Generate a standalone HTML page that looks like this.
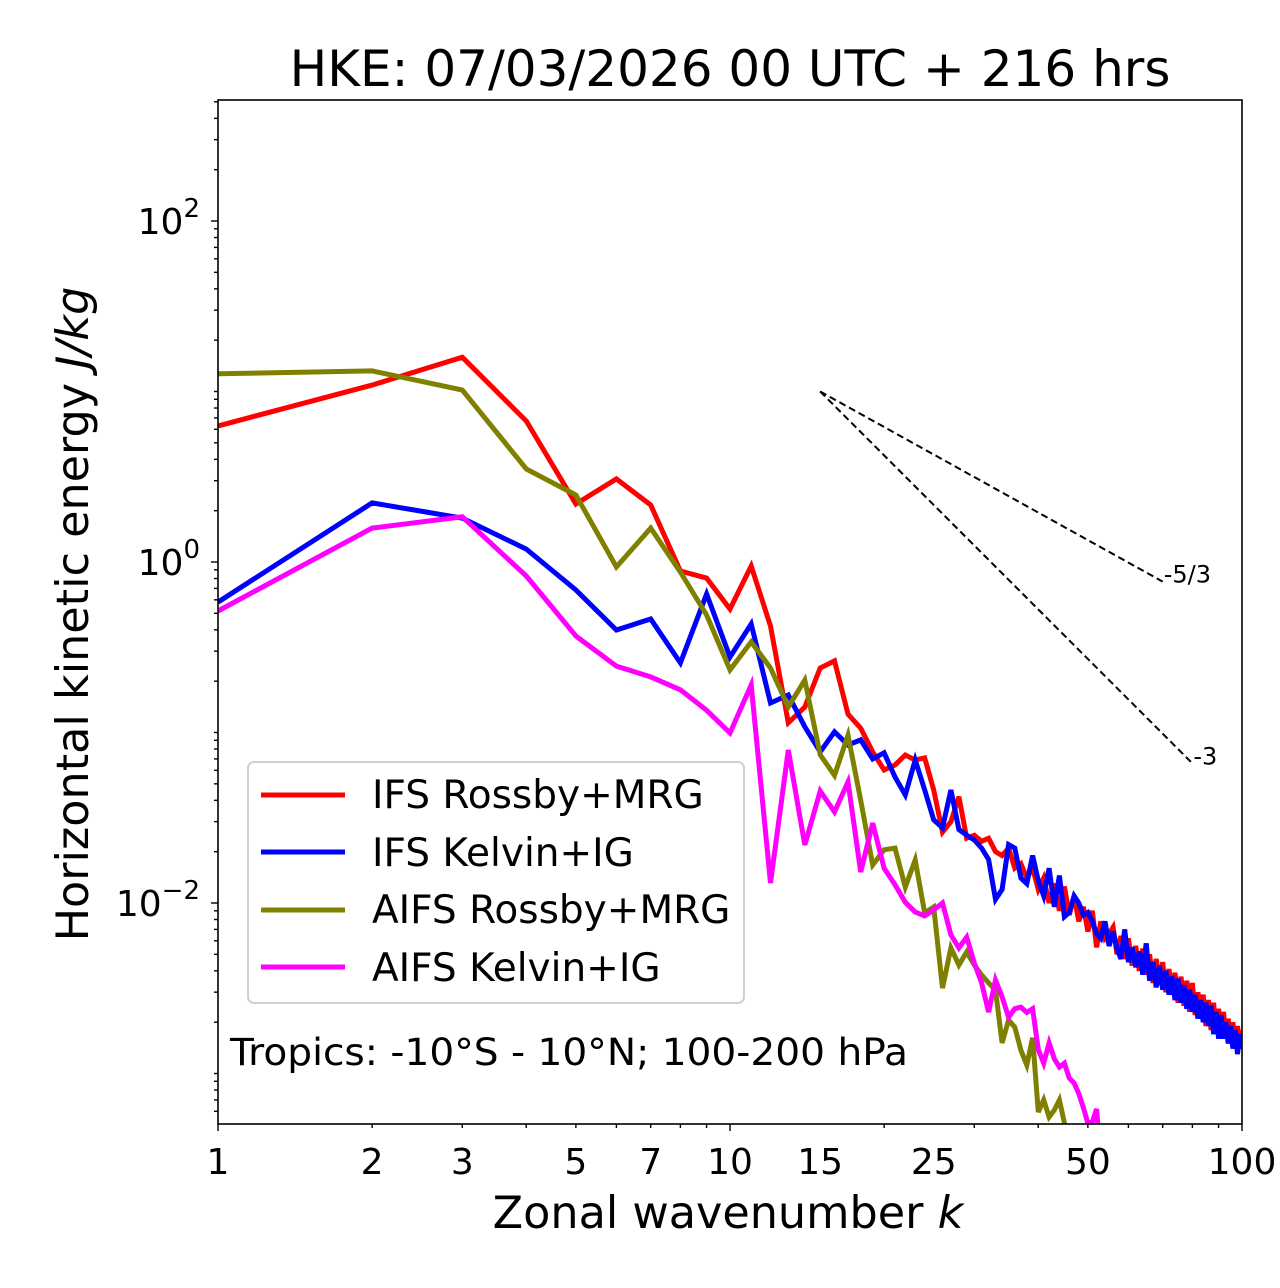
<!DOCTYPE html>
<html><head><meta charset="utf-8"><style>
html,body{margin:0;padding:0;background:#fff;}
svg{display:block;font-family:"DejaVu Sans","Liberation Sans",sans-serif;}
</style></head><body>
<svg id="chart" width="1280" height="1288" viewBox="0 0 1280 1288" xmlns="http://www.w3.org/2000/svg">
<defs><clipPath id="plotclip"><rect x="218" y="100" width="1024" height="1024"/></clipPath></defs>
<text x="730" y="86" font-size="50" text-anchor="middle">HKE: 07/03/2026 00 UTC + 216 hrs</text>
<g id="ticks"></g>
<g id="series" clip-path="url(#plotclip)"></g>
<rect x="218" y="100" width="1024" height="1024" fill="none" stroke="#000" stroke-width="1.6"/>
<text x="728" y="1228" font-size="44.5" text-anchor="middle">Zonal wavenumber <tspan font-style="italic">k</tspan></text>
<text transform="translate(88,614) rotate(-90)" font-size="44.5" text-anchor="middle">Horizontal kinetic energy <tspan font-style="italic">J/kg</tspan></text>
<g>
<rect x="248" y="762" width="496" height="241" rx="6" fill="#fff" fill-opacity="0.8" stroke="#d0d0d0" stroke-width="2"/>
<g><line x1="261" y1="795" x2="345" y2="795" stroke="#ff0000" stroke-width="5"/><text x="372" y="808" font-size="39">IFS Rossby+MRG</text></g>
<g><line x1="261" y1="852" x2="345" y2="852" stroke="#0000ff" stroke-width="5"/><text x="372" y="866" font-size="39">IFS Kelvin+IG</text></g>
<g><line x1="261" y1="910" x2="345" y2="910" stroke="#808000" stroke-width="5"/><text x="372" y="923" font-size="39">AIFS Rossby+MRG</text></g>
<g><line x1="261" y1="967" x2="345" y2="967" stroke="#ff00ff" stroke-width="5"/><text x="372" y="981" font-size="39">AIFS Kelvin+IG</text></g>
</g>
<text x="230" y="1065" font-size="37" textLength="678" lengthAdjust="spacingAndGlyphs">Tropics: -10°S - 10°N; 100-200 hPa</text>
</svg>
<script>
const red = [6.28,10.9,15.9,6.71,2.19,3.07,2.16,0.885,0.805,0.53,0.948,0.421,0.114,0.141,0.239,0.263,0.128,0.106,0.0769,0.0603,0.0645,0.0738,0.069,0.071,0.046,0.026,0.030,0.042,0.024,0.025,
0.023,0.024,0.020,0.019,0.021,0.016,0.017,0.014,0.016,0.012,
0.014,0.010,0.013,0.009,0.0125,0.0085,0.0110,0.0078,0.0095,0.0068,
0.0090,0.0055,0.0078,0.0062,0.0066,0.0072,0.0050,0.0064,0.0047,0.0062,
0.0043,0.0056,0.0040,0.0054,0.0038,0.0050,0.0034,0.0047,0.0033,0.0045,
0.0030,0.0041,0.0029,0.0039,0.0026,0.0037,0.0025,0.0035,0.0023,0.0034,
0.0022,0.0030,0.0021,0.0029,0.0019,0.0027,0.0018,0.0026,0.0018,0.0024,
0.0017,0.0023,0.0016,0.0021,0.0015,0.0020,0.0014,0.0019,0.0014,0.0018];
const blue = [0.582,2.22,1.81,1.19,0.685,0.399,0.463,0.256,0.649,0.277,0.433,0.149,0.166,0.108,0.0769,0.101,0.0845,0.0905,0.070,0.076,0.0548,0.043,0.069,0.046,0.0307,0.0276,0.046,0.027,0.025,0.0234,
0.021,0.018,0.0105,0.012,0.022,0.021,0.014,0.013,0.019,0.0135,
0.011,0.016,0.0095,0.0145,0.0083,0.0088,0.011,0.010,0.0085,0.0088,
0.0078,0.0066,0.0062,0.0078,0.0056,0.0068,0.0054,0.0047,0.0070,0.0045,
0.0055,0.0042,0.0052,0.0038,0.0058,0.0035,0.0045,0.0032,0.0043,0.0031,
0.0040,0.0029,0.0037,0.0027,0.0036,0.0026,0.0033,0.0024,0.0031,0.0023,
0.0029,0.0021,0.0027,0.0020,0.0026,0.0019,0.0025,0.0017,0.0023,0.0016,
0.0022,0.0016,0.0020,0.0015,0.0019,0.0014,0.0018,0.0013,0.0017,0.0014];
const olive = [12.7,13.2,10.2,3.51,2.47,0.935,1.58,0.873,0.489,0.233,0.34,0.239,0.141,0.203,0.074,0.056,0.0966,0.040,0.0167,0.0205,0.021,0.0124,0.0179,0.00874,0.00948,0.00317,0.00545,0.00433,0.00516,0.00433,
0.00378,0.0034,0.00309,0.00151,0.00206,0.00187,0.00137,0.00112,0.00162,0.000594,0.0007,0.000556,0.00061,0.0007,0.000513,0.0003,0.00025];
const magenta = [0.516,1.58,1.84,0.828,0.368,0.245,0.212,0.178,0.135,0.0993,0.19,0.0131,0.0789,0.0219,0.0454,0.0342,0.0513,0.0152,0.0294,0.016,0.0128,0.0101,0.00886,0.0084,0.0091,0.010,0.0065,0.00545,0.0063,0.00445,
0.0034,0.00229,0.00353,0.00281,0.00214,0.0024,0.00245,0.00228,0.0024,0.00138,0.00115,0.00151,0.00122,0.00109,0.00115,0.00094,0.00088,0.00076,0.00063,0.00051,0.00052,0.00062,0.0003];
const xTickValues = [1,2,3,5,7,10,15,25,50,100];
const xTickLabels = ["1","2","3","5","7","10","15","25","50","100"];
const yMajorExps = [2,0,-2];
const refStartK = 15, refStartE = 10;
const refSlopes = [-5/3, -3];
const refEndK = [70, 80];
const refLabels = ["-5/3", "-3"];

const NS = "http://www.w3.org/2000/svg";
const X0 = 218, XW = 512, Y0 = 562, YD = 170.5;
function xs(k){ return X0 + XW*Math.log10(k); }
function ys(e){ return Y0 - YD*Math.log10(e); }
function mk(tag, attrs, parent){ const el=document.createElementNS(NS,tag); for(const a in attrs) el.setAttribute(a, attrs[a]); parent.appendChild(el); return el; }

const tg = document.getElementById('ticks');
for(let d=0; d<2; d++){
  for(let m=1; m<10; m++){
    const k = m*Math.pow(10,d);
    const major = (m===1);
    const t = mk('line',{x1:xs(k),x2:xs(k),y1:1124,y2:1124+(major?7:4),stroke:'#000','stroke-width':1.4},tg);
    
    
  }
}
mk('line',{x1:xs(100),x2:xs(100),y1:1124,y2:1131,stroke:'#000','stroke-width':1.4},tg);
xTickValues.forEach((v,i)=>{
  const t = mk('text',{x:xs(v),y:1174,'font-size':36,'text-anchor':'middle'},tg);
  t.textContent = xTickLabels[i];
  
  
});
for(let d=-4; d<3; d++){
  for(let m=1; m<10; m++){
    const e = m*Math.pow(10,d);
    const y = ys(e);
    if(y<100||y>1124) continue;
    const major = (m===1 && d%2===0);
    const t = mk('line',{x1:218-(major?7:4),x2:218,y1:y,y2:y,stroke:'#000','stroke-width':1.4},tg);
    
    
  }
}
yMajorExps.forEach(p=>{
  const t = mk('text',{x:200,y:ys(Math.pow(10,p))+13,'font-size':36,'text-anchor':'end'},tg);
  t.innerHTML = '10<tspan dy="-17" font-size="26">'+(p<0?'\u2212'+(-p):p)+'</tspan>';
  
  
});

const sg = document.getElementById('series');
function drawSeries(arr, color, name){
  const pts = arr.map((v,i)=> xs(i+1).toFixed(1)+','+ys(v).toFixed(1)).join(' ');
  const p = mk('polyline',{points:pts,fill:'none',stroke:color,'stroke-width':5,'stroke-linejoin':'miter'},sg);
  
  
}
drawSeries(red,'#ff0000','ifs-rossby-mrg-line');
drawSeries(blue,'#0000ff','ifs-kelvin-ig-line');
drawSeries(olive,'#808000','aifs-rossby-mrg-line');
drawSeries(magenta,'#ff00ff','aifs-kelvin-ig-line');

const svg = document.getElementById('chart');
refSlopes.forEach((s,i)=>{
  const k2 = refEndK[i];
  const e2 = refStartE*Math.pow(k2/refStartK, s);
  const l = mk('line',{x1:xs(refStartK),y1:ys(refStartE),x2:xs(k2),y2:ys(e2),stroke:'#000','stroke-width':2,'stroke-dasharray':'7,4'},svg);
  
  
  const t = mk('text',{x:xs(k2)+1,y:ys(e2)+1,'font-size':24},svg);
  t.textContent = refLabels[i];
  
  
});
</script>
</body></html>
